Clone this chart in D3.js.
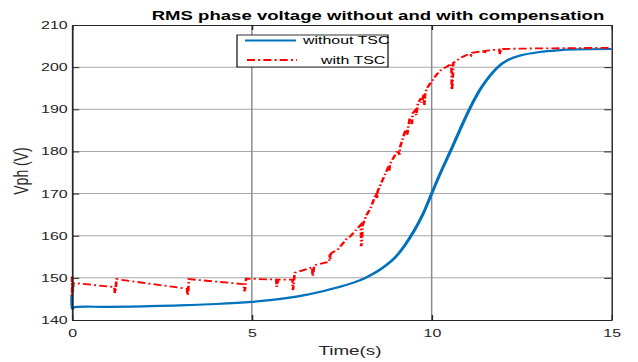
<!DOCTYPE html>
<html>
<head>
<meta charset="utf-8">
<script src="https://cdn.jsdelivr.net/npm/d3@7"></script>
<style>
  html, body { margin: 0; padding: 0; background: #fff; }
  svg { display: block; font-family: "Liberation Sans", Arial, Helvetica, sans-serif; }
</style>
</head>
<body>
<svg id="chart"></svg>
<script>
// ---- data ----
const xTicks = [0, 5, 10, 15];
const yTicks = [140, 150, 160, 170, 180, 190, 200, 210];

// without TSC (blue)
const tWithout = [0, 0.01, 0.05, 1, 2, 3, 4, 5, 5.5, 6, 6.5, 7, 7.5, 8, 8.25, 8.5, 8.75, 9, 9.25, 9.5,
  9.75, 10, 10.25, 10.52, 10.78, 11.05, 11.4, 11.84, 12.1, 12.44, 13, 13.5, 14, 15];
const vWithout = [146, 142.6, 143.0, 143.1, 143.25, 143.45, 143.8, 144.3, 144.7, 145.25, 145.95, 146.9, 148.0, 149.4, 150.4, 151.6, 153.1, 155.0, 157.7, 161.0,
  165.0, 170.0, 175, 180, 185, 190, 195.4, 200, 201.6, 202.7, 203.6, 204, 204.2, 204.3];

// with TSC (red, dash-dot) – includes the small switching dips
const tWith = [0, 0.005, 0.01, 0.02, 0.04,
  1.18, 1.19, 1.21, 1.24,
  3.2, 3.21, 3.23, 3.25,
  4.78, 4.79, 4.81, 4.84,
  5.68, 5.69, 5.71, 5.73,
  6.13, 6.14, 6.16, 6.19,
  6.68, 6.69, 6.71, 6.73,
  7.15, 7.17, 7.18, 7.2, 7.4, 7.63, 7.7,
  8.03, 8.04, 8.06, 8.08, 8.19, 8.3, 8.46, 8.48, 8.5, 8.65, 8.8, 8.82, 8.84,
  9.06, 9.1, 9.12, 9.25, 9.3, 9.32, 9.39, 9.45, 9.47, 9.55, 9.57, 9.62, 9.7, 9.72, 9.78, 9.8, 9.82, 9.9, 10, 10.1, 10.22, 10.4,
  10.55, 10.56, 10.58, 10.6, 10.8, 11.06, 11.1, 11.13, 11.43, 11.46, 11.5, 11.88, 11.9, 11.93, 12.5, 15];
const vWith = [150.3, 145.8, 150, 146.5, 148.8,
  147.8, 146.4, 147.0, 149.7,
  147.4, 145.9, 146.5, 149.7,
  148.5, 146.8, 147.3, 149.8,
  149.6, 147.9, 148.5, 149.6,
  149.6, 147.1, 148.0, 151.2,
  152.5, 150.4, 151.0, 153.0,
  153.8, 155.6, 154.5, 155.8, 156.8, 159.2, 159.5,
  162.6, 157.5, 158.5, 162.5, 164.9, 166.5, 170.1, 168.8, 170.6, 173.5, 176.4, 175.2, 177,
  180.3, 179.2, 181, 184.5, 185.2, 184, 187.9, 186.5, 189, 189.8, 188.6, 191.4, 192.6, 191.5, 193.5, 191, 194, 195.4, 196.6, 197.8, 199.1, 200,
  200.8, 194.6, 196, 201, 202.2, 203.2, 202.8, 203.4, 203.8, 203.2, 203.9, 204.2, 203.1, 204.3, 204.4, 204.6];

const seriesNames = ["without TSC", "with TSC"];
const seriesColors = ["#0072BD", "#FF0000"];

// ---- layout (picture is stretched horizontally) ----
const W = 638, H = 362;
const S = 1.45;               // horizontal stretch factor
const VW = W / S;             // user-space width
const px = v => v / S;        // pixel x -> user x

const mLeft = px(72), mRight = px(611.5), mTop = 25, mBottom = 320;

const svg = d3.select("#chart")
  .attr("width", W).attr("height", H)
  .attr("viewBox", `0 0 ${VW} ${H}`)
  .attr("preserveAspectRatio", "none");

const x = d3.scaleLinear().domain([0, 15]).range([mLeft, mRight]);
const y = d3.scaleLinear().domain([140, 210]).range([mBottom, mTop]);

// grid
const grid = svg.append("g");
grid.selectAll(".hg").data(yTicks.slice(1, -1)).enter().append("line")
  .attr("x1", mLeft).attr("x2", mRight)
  .attr("y1", d => y(d)).attr("y2", d => y(d))
  .attr("stroke", "#a8a8a8").attr("stroke-width", 1);
grid.selectAll(".vg").data(xTicks.slice(1, -1)).enter().append("line")
  .attr("x1", d => x(d)).attr("x2", d => x(d))
  .attr("y1", mTop).attr("y2", mBottom)
  .attr("stroke", "#8a8a8a").attr("stroke-width", 1);

// lines
const plot = svg.append("g");
const lineBlue = d3.line().x(d => x(d[0])).y(d => y(d[1])).curve(d3.curveCatmullRom.alpha(0.5));
const lineRed = d3.line().x(d => x(d[0])).y(d => y(d[1]));

plot.append("path")
  .datum(tWithout.map((t, i) => [t, vWithout[i]]))
  .attr("d", lineBlue)
  .attr("fill", "none").attr("stroke", seriesColors[0]).attr("stroke-width", 2.2);

plot.append("path")
  .datum(tWith.map((t, i) => [t, vWith[i]]))
  .attr("d", lineRed)
  .attr("fill", "none").attr("stroke", seriesColors[1]).attr("stroke-width", 1.8)
  .attr("stroke-dasharray", "5.5,2.2,1.4,2.2");

// axes
const axisColor = "#262626";
const gx = svg.append("g").attr("transform", `translate(0,${mBottom})`)
  .call(d3.axisBottom(x).tickValues(xTicks).tickSizeInner(-5).tickSizeOuter(0).tickPadding(10));
const gy = svg.append("g").attr("transform", `translate(${mLeft},0)`)
  .call(d3.axisLeft(y).tickValues(yTicks).tickSizeInner(-5).tickSizeOuter(0).tickPadding(3));
const gxt = svg.append("g").attr("transform", `translate(0,${mTop})`)
  .call(d3.axisTop(x).tickValues(xTicks).tickSizeInner(-5).tickSizeOuter(0).tickFormat(""));
const gyr = svg.append("g").attr("transform", `translate(${mRight},0)`)
  .call(d3.axisRight(y).tickValues(yTicks).tickSizeInner(-5).tickSizeOuter(0).tickFormat(""));

[gx, gy, gxt, gyr].forEach(g => {
  g.select(".domain").attr("stroke", axisColor).attr("stroke-width", 1.2);
  g.selectAll(".tick line").attr("stroke", axisColor);
  g.selectAll(".tick text").attr("fill", axisColor).attr("font-size", 11)
    .attr("font-family", "Liberation Sans, Arial, sans-serif");
});
gxt.select(".domain").attr("stroke-width", 1);
gyr.select(".domain").attr("stroke-width", 1);
gx.selectAll(".tick text").attr("dy", "0.6em");

// title & labels
svg.append("text")
  .attr("x", px(378)).attr("y", 20)
  .attr("text-anchor", "middle").attr("font-weight", "bold").attr("font-size", 12.8)
  .attr("fill", "#000")
  .text("RMS phase voltage without and with compensation");

svg.append("text")
  .attr("x", px(350)).attr("y", 355)
  .attr("text-anchor", "middle").attr("font-size", 13).attr("fill", axisColor)
  .text("Time(s)");

svg.append("text")
  .attr("transform", `translate(${px(28)},171) rotate(-90)`)
  .attr("text-anchor", "middle").attr("font-size", 14).attr("fill", axisColor)
  .text("Vph (V)");

// legend
const lg = svg.append("g");
lg.append("rect")
  .attr("x", px(237)).attr("y", 35).attr("width", px(388) - px(237)).attr("height", 32)
  .attr("fill", "#fff").attr("stroke", "#000").attr("stroke-width", 0.8);
const legendRows = [
  { name: seriesNames[0], color: seriesColors[0], y: 40.5, x1: 245, x2: 296, tx: 303, dash: null, w: 2.2 },
  { name: seriesNames[1], color: seriesColors[1], y: 60, x1: 247, x2: 297, tx: 321, dash: "5.5,2.2,1.4,2.2", w: 1.8 }
];
legendRows.forEach(r => {
  lg.append("line")
    .attr("x1", px(r.x1)).attr("x2", px(r.x2)).attr("y1", r.y).attr("y2", r.y)
    .attr("stroke", r.color).attr("stroke-width", r.w)
    .attr("stroke-dasharray", r.dash);
  lg.append("text")
    .attr("x", px(r.tx)).attr("y", r.y + 4)
    .attr("font-size", 11).attr("fill", "#000")
    .text(r.name);
});
</script>
</body>
</html>
